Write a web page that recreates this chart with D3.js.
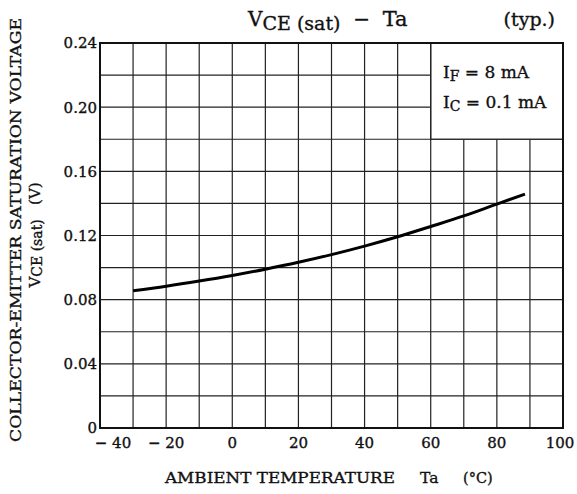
<!DOCTYPE html>
<html><head><meta charset="utf-8">
<script src="https://cdn.jsdelivr.net/npm/d3@7"></script>
<style>body{margin:0;background:#fff}svg{display:block}text{font-family:"DejaVu Serif",serif;fill:#111;stroke:#111;stroke-width:0.35px}</style>
</head><body><svg id="c" width="577" height="494"></svg>
<script>
const temps = [-30, -20, -10, 0, 10, 20, 30, 40, 50, 60, 70, 80, 88.5];
const vce = [0.0856, 0.0884, 0.0916, 0.0951, 0.0990, 0.1033, 0.1081, 0.1134, 0.1192, 0.1256, 0.1322, 0.1396, 0.1458];
const xTicks = [-40, -20, 0, 20, 40, 60, 80, 100];
const xTickLabels = ["\u2212 40", "\u2212 20", "0", "20", "40", "60", "80", "100"];
const yTicks = [0, 0.04, 0.08, 0.12, 0.16, 0.20, 0.24];
const yTickLabels = ["0", "0.04", "0.08", "0.12", "0.16", "0.20", "0.24"];
const xGrid = d3.range(-40, 101, 10);
const yGrid = d3.range(0, 0.2401, 0.02);

const svg = d3.select("#c");
const L = 100, R = 563, T = 43, B = 428;
const x = d3.scaleLinear().domain([-40, 100]).range([L, R]);
const y = d3.scaleLinear().domain([0, 0.24]).range([B, T]);

const g = svg.append("g");
xGrid.forEach(v => {
  if (v === -40 || v === 100) return;
  const top = v > 60 ? y(0.18) : T;
  g.append("line").attr("x1", x(v)).attr("x2", x(v)).attr("y1", top).attr("y2", B)
    .attr("stroke", "#222").attr("stroke-width", 1.2);
});
yGrid.forEach(v => {
  if (Math.abs(v) < 1e-9 || Math.abs(v - 0.24) < 1e-9) return;
  const right = v > 0.1801 ? x(60) : R;
  g.append("line").attr("x1", L).attr("x2", right).attr("y1", y(v)).attr("y2", y(v))
    .attr("stroke", "#222").attr("stroke-width", 1.2);
});
g.append("line").attr("x1", x(60)).attr("x2", x(60)).attr("y1", T).attr("y2", y(0.18)).attr("stroke", "#222").attr("stroke-width", 1.2);
g.append("line").attr("x1", x(60)).attr("x2", R).attr("y1", y(0.18)).attr("y2", y(0.18)).attr("stroke", "#222").attr("stroke-width", 1.2);
g.append("rect").attr("x", L).attr("y", T).attr("width", R - L).attr("height", B - T)
  .attr("fill", "none").attr("stroke", "#111").attr("stroke-width", 2);

const pts = temps.map((t, i) => [t, vce[i]]);
svg.append("path").datum(pts)
  .attr("d", d3.line().x(d => x(d[0])).y(d => y(d[1])).curve(d3.curveMonotoneX))
  .attr("fill", "none").attr("stroke", "#000").attr("stroke-width", 3);

yTicks.forEach((v, i) => {
  svg.append("text").attr("x", 97).attr("y", y(v)).attr("dy", "0.36em")
    .attr("text-anchor", "end").attr("font-size", 15).text(yTickLabels[i]);
});
xTicks.forEach((v, i) => {
  const dx = v === -40 ? 13 : (v === 100 ? -3 : 0);
  svg.append("text").attr("x", x(v) + dx).attr("y", 448)
    .attr("text-anchor", "middle").attr("font-size", 15).text(xTickLabels[i]);
});

// x axis title
svg.append("text").attr("x", 165).attr("y", 483).attr("font-size", 14.5)
  .attr("textLength", 230).attr("lengthAdjust", "spacingAndGlyphs").text("AMBIENT TEMPERATURE");
svg.append("text").attr("x", 420).attr("y", 483).attr("font-size", 15.5).text("Ta");
svg.append("text").attr("x", 463).attr("y", 483).attr("font-size", 14.5).text("(\u00B0C)");

// y axis title
const yt = svg.append("g").attr("transform", "translate(21,230) rotate(-90)");
yt.append("text").attr("x", 0).attr("y", 0).attr("text-anchor", "middle")
  .attr("font-size", 14.5)
  .attr("textLength", 424).attr("lengthAdjust", "spacingAndGlyphs")
  .text("COLLECTOR-EMITTER SATURATION VOLTAGE");
const yt2 = yt.append("text").attr("x", -5).attr("y", 19).attr("text-anchor", "middle")
  .attr("font-size", 15).attr("xml:space", "preserve");
yt2.append("tspan").text("V");
yt2.append("tspan").attr("font-size", 14).attr("dy", 2).text("CE (sat)");
yt2.append("tspan").attr("dy", -2).text("   (V)");

// title
const tt = svg.append("text").attr("x", 248).attr("y", 26).attr("font-size", 20).attr("xml:space", "preserve");
tt.append("tspan").text("V");
tt.append("tspan").attr("font-size", 19).attr("dy", 4).text("CE (sat)");
tt.append("tspan").attr("dy", -4).text("  \u2212  ");
tt.append("tspan").attr("font-size", 21).text("Ta");
svg.append("text").attr("x", 555).attr("y", 26).attr("text-anchor", "end").attr("font-size", 19).text("(typ.)");

// legend text
const l1 = svg.append("text").attr("x", 443).attr("y", 78).attr("font-size", 17).attr("xml:space", "preserve");
l1.append("tspan").text("I");
l1.append("tspan").attr("font-size", 14).attr("dy", 3).text("F");
l1.append("tspan").attr("dy", -3).text(" = 8 mA");
const l2 = svg.append("text").attr("x", 443).attr("y", 108).attr("font-size", 17).attr("xml:space", "preserve");
l2.append("tspan").text("I");
l2.append("tspan").attr("font-size", 14).attr("dy", 3).text("C");
l2.append("tspan").attr("dy", -3).text(" = 0.1 mA");
</script></body></html>
